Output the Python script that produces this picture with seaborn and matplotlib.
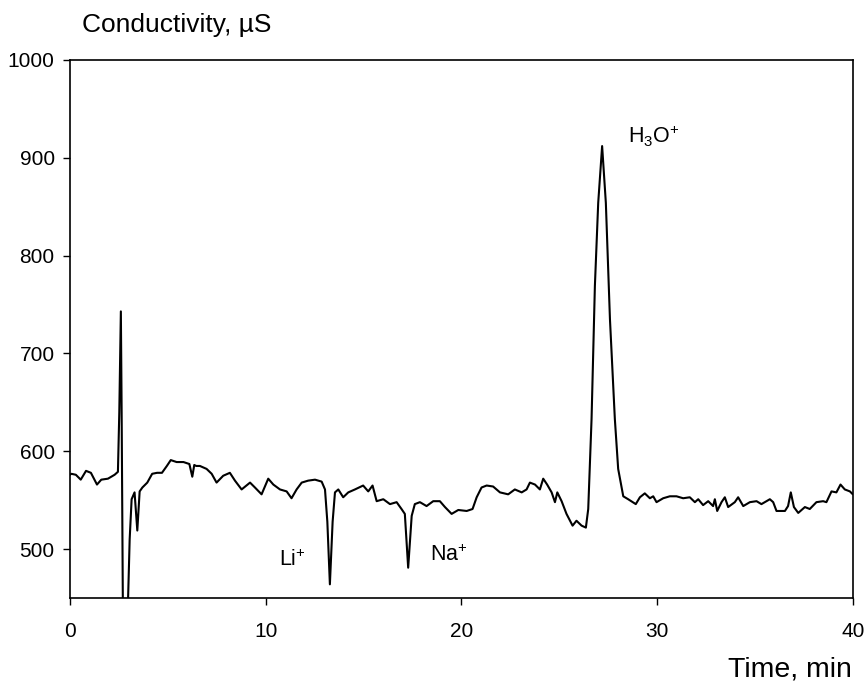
import pandas as pd
import seaborn as sns
import matplotlib.pyplot as plt

# Conductivity trace (time in min, conductivity in uS)
time_min = [
    0.0, 0.07, 0.3, 0.55, 0.82, 1.07, 1.38, 1.6, 1.94, 2.28, 2.45,
    2.52, 2.60, 2.64, 2.70, 2.85, 2.97, 3.05, 3.15, 3.3, 3.44, 3.56,
    3.7, 3.95, 4.2, 4.45, 4.7, 4.95, 5.15, 5.45, 5.8, 6.1, 6.25, 6.35, 6.45, 6.64,
    6.98, 7.24, 7.49, 7.83, 8.17, 8.43, 8.77, 9.2, 9.45, 9.79, 10.13, 10.39,
    10.73, 11.07, 11.32, 11.58, 11.84, 12.17, 12.52, 12.86, 13.03, 13.15,
    13.28, 13.42, 13.54, 13.71, 13.96, 14.22, 14.56, 14.98, 15.24, 15.46,
    15.67, 16.01, 16.35, 16.69, 16.94, 17.11, 17.28, 17.46, 17.62, 17.88,
    18.22, 18.56, 18.9, 19.16, 19.5, 19.84, 20.27, 20.57, 20.78, 21.03,
    21.29, 21.62, 21.97, 22.39, 22.73, 23.08, 23.33, 23.5, 23.76, 24.01,
    24.18, 24.38, 24.61, 24.78, 24.9, 25.12, 25.37, 25.68, 25.88, 26.14,
    26.36, 26.48, 26.65, 26.82, 26.99, 27.19, 27.38, 27.59, 27.84, 28.01,
    28.27, 28.52, 28.91, 29.12, 29.37, 29.63, 29.8, 29.97, 30.31, 30.65,
    30.99, 31.33, 31.67, 31.93, 32.1, 32.35, 32.61, 32.86, 32.95, 33.07,
    33.29, 33.46, 33.63, 33.97, 34.14, 34.4, 34.74, 35.08, 35.33, 35.76,
    35.93, 36.1, 36.53, 36.69, 36.83, 36.99, 37.21, 37.55, 37.8, 38.14,
    38.48, 38.65, 38.91, 39.16, 39.37, 39.59, 39.85, 40.0,
]
conductivity = [
    576, 577, 576, 571, 580, 578, 566, 571, 572, 576, 579,
    640, 743, 640, 450, 350, 450, 510, 551, 558, 519, 559,
    563, 568, 577, 578, 578, 585, 591, 589, 589, 587, 574, 586, 585, 585,
    582, 577, 568, 575, 578, 570, 561, 568, 563, 556, 572, 566,
    561, 559, 552, 561, 568, 570, 571, 569, 561, 528,
    464, 528, 558, 561, 553, 558, 561, 565, 559, 565,
    549, 551, 546, 548, 541, 536, 481, 534, 546, 548,
    544, 549, 549, 543, 536, 540, 539, 541, 553, 563,
    565, 564, 558, 556, 561, 558, 561, 568, 566, 561,
    572, 566, 558, 548, 558, 549, 536, 524, 529, 524,
    522, 541, 633, 769, 854, 912, 854, 735, 633, 582,
    554, 551, 546, 553, 557, 552, 554, 548, 552, 554,
    554, 552, 553, 548, 551, 545, 549, 544, 551, 539,
    548, 553, 543, 548, 553, 544, 548, 549, 546, 551,
    548, 539, 539, 544, 558, 543, 537, 543, 541, 548,
    549, 548, 559, 558, 566, 561, 559, 556,
]

peak_labels = [r'Li$^{+}$', r'Na$^{+}$', r'H$_{3}$O$^{+}$']
peak_label_time = [10.7, 18.4, 28.5]
peak_label_value = [489, 494, 922]

df = pd.DataFrame({'time': time_min, 'cond': conductivity})

sns.set_style('ticks')
plt.rcParams['font.family'] = ['Liberation Sans', 'DejaVu Sans']
plt.rcParams['mathtext.fontset'] = 'custom'
plt.rcParams['mathtext.rm'] = 'Liberation Sans'
plt.rcParams['mathtext.it'] = 'Liberation Sans'
plt.rcParams['text.color'] = 'black'
plt.rcParams['xtick.color'] = 'black'
plt.rcParams['ytick.color'] = 'black'
plt.rcParams['axes.edgecolor'] = 'black'

fig = plt.figure(figsize=(8.66, 6.87), dpi=100)
ax = fig.add_axes([0.0808, 0.1295, 0.904, 0.7832])

sns.lineplot(data=df, x='time', y='cond', color='black', linewidth=1.5, ax=ax)

ax.set_xlim(0, 40)
ax.set_ylim(450, 1000)
ax.set_xticks([0, 10, 20, 30, 40])
ax.set_yticks([500, 600, 700, 800, 900, 1000])
ax.tick_params(direction='out', length=5, width=1, labelsize=15,
               labelcolor='black')
ax.tick_params(axis='x', pad=12)
ax.tick_params(axis='y', pad=6)
for s in ax.spines.values():
    s.set_linewidth(1.2)
    s.set_visible(True)
ax.set_xlabel('')
ax.set_ylabel('')

for lab, t, v in zip(peak_labels, peak_label_time, peak_label_value):
    ax.text(t, v, lab, fontsize=15.5, ha='left', va='center', color='black')

fig.text(82 / 866, 1 - 25 / 687, 'Conductivity, \u00b5S', fontsize=19,
         ha='left', va='center', color='black')
fig.text(852 / 866, 1 - 670 / 687, 'Time, min', fontsize=20.5,
         ha='right', va='center', color='black')

fig.savefig('out.png', dpi=100)
